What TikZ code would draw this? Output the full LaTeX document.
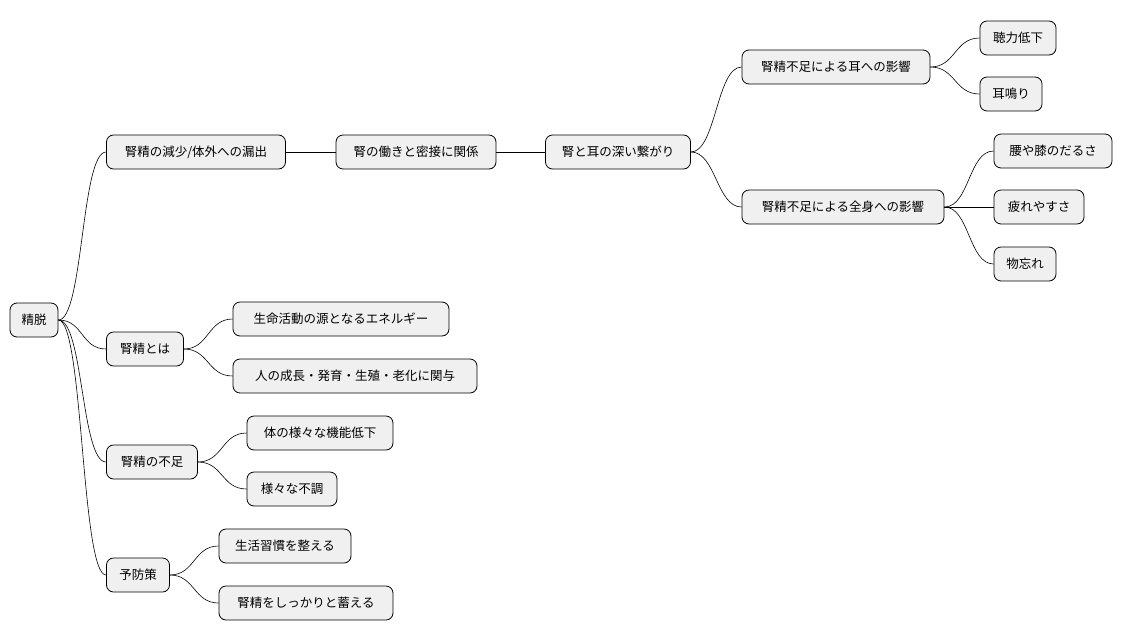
\documentclass[tikz,border=0pt]{standalone}
\usepackage{fontspec}
\setmainfont{Noto Sans CJK JP}
\begin{document}
\begin{tikzpicture}[x=1pt,y=-1pt,
  box/.style={draw=black,line width=0.8pt,fill=black!6,rounded corners=7pt,minimum height=34pt,inner xsep=8pt,font=\fontsize{12.5}{14}\selectfont},
  con/.style={draw=black,line width=0.6pt}]
\useasboundingbox (0,0) rectangle (1123,640);
\node[box,minimum width=48pt] (r) at (34,320) {精脱};
\node[box,minimum width=179pt] (a) at (196,152) {腎精の減少/体外への漏出};
\node[box,minimum width=160pt] (a1) at (416,152) {腎の働きと密接に関係};
\node[box,minimum width=145pt] (a2) at (618,152) {腎と耳の深い繋がり};
\node[box,minimum width=188pt] (e) at (836,67) {腎精不足による耳への影響};
\node[box,minimum width=76pt] (e1) at (1018,38) {聴力低下};
\node[box,minimum width=62pt] (e2) at (1011,94) {耳鳴り};
\node[box,minimum width=202pt] (z) at (843,207) {腎精不足による全身への影響};
\node[box,minimum width=118pt] (z1) at (1053,151) {腰や膝のだるさ};
\node[box,minimum width=90pt] (z2) at (1039,207) {疲れやすさ};
\node[box,minimum width=62pt] (z3) at (1025,264) {物忘れ};
\node[box,minimum width=77pt] (b) at (145,349) {腎精とは};
\node[box,minimum width=216pt] (b1) at (341,319) {生命活動の源となるエネルギー};
\node[box,minimum width=244pt] (b2) at (355,376) {人の成長・発育・生殖・老化に関与};
\node[box,minimum width=91pt] (c) at (152,462) {腎精の不足};
\node[box,minimum width=146pt] (c1) at (320,433) {体の様々な機能低下};
\node[box,minimum width=90pt] (c2) at (292,489) {様々な不調};
\node[box,minimum width=63pt] (d) at (138,575) {予防策};
\node[box,minimum width=132pt] (d1) at (285,546) {生活習慣を整える};
\node[box,minimum width=174pt] (d2) at (306,603) {腎精をしっかりと蓄える};
\foreach \p/\c in {r/a,r/b,r/c,r/d,a/a1,a1/a2,a2/e,a2/z,e/e1,e/e2,z/z1,z/z2,z/z3,b/b1,b/b2,c/c1,c/c2,d/d1,d/d2}
  \draw[con] (\p.east) .. controls ([xshift=25pt]\p.east) and ([xshift=-25pt]\c.west) .. (\c.west);
\end{tikzpicture}
\end{document}
